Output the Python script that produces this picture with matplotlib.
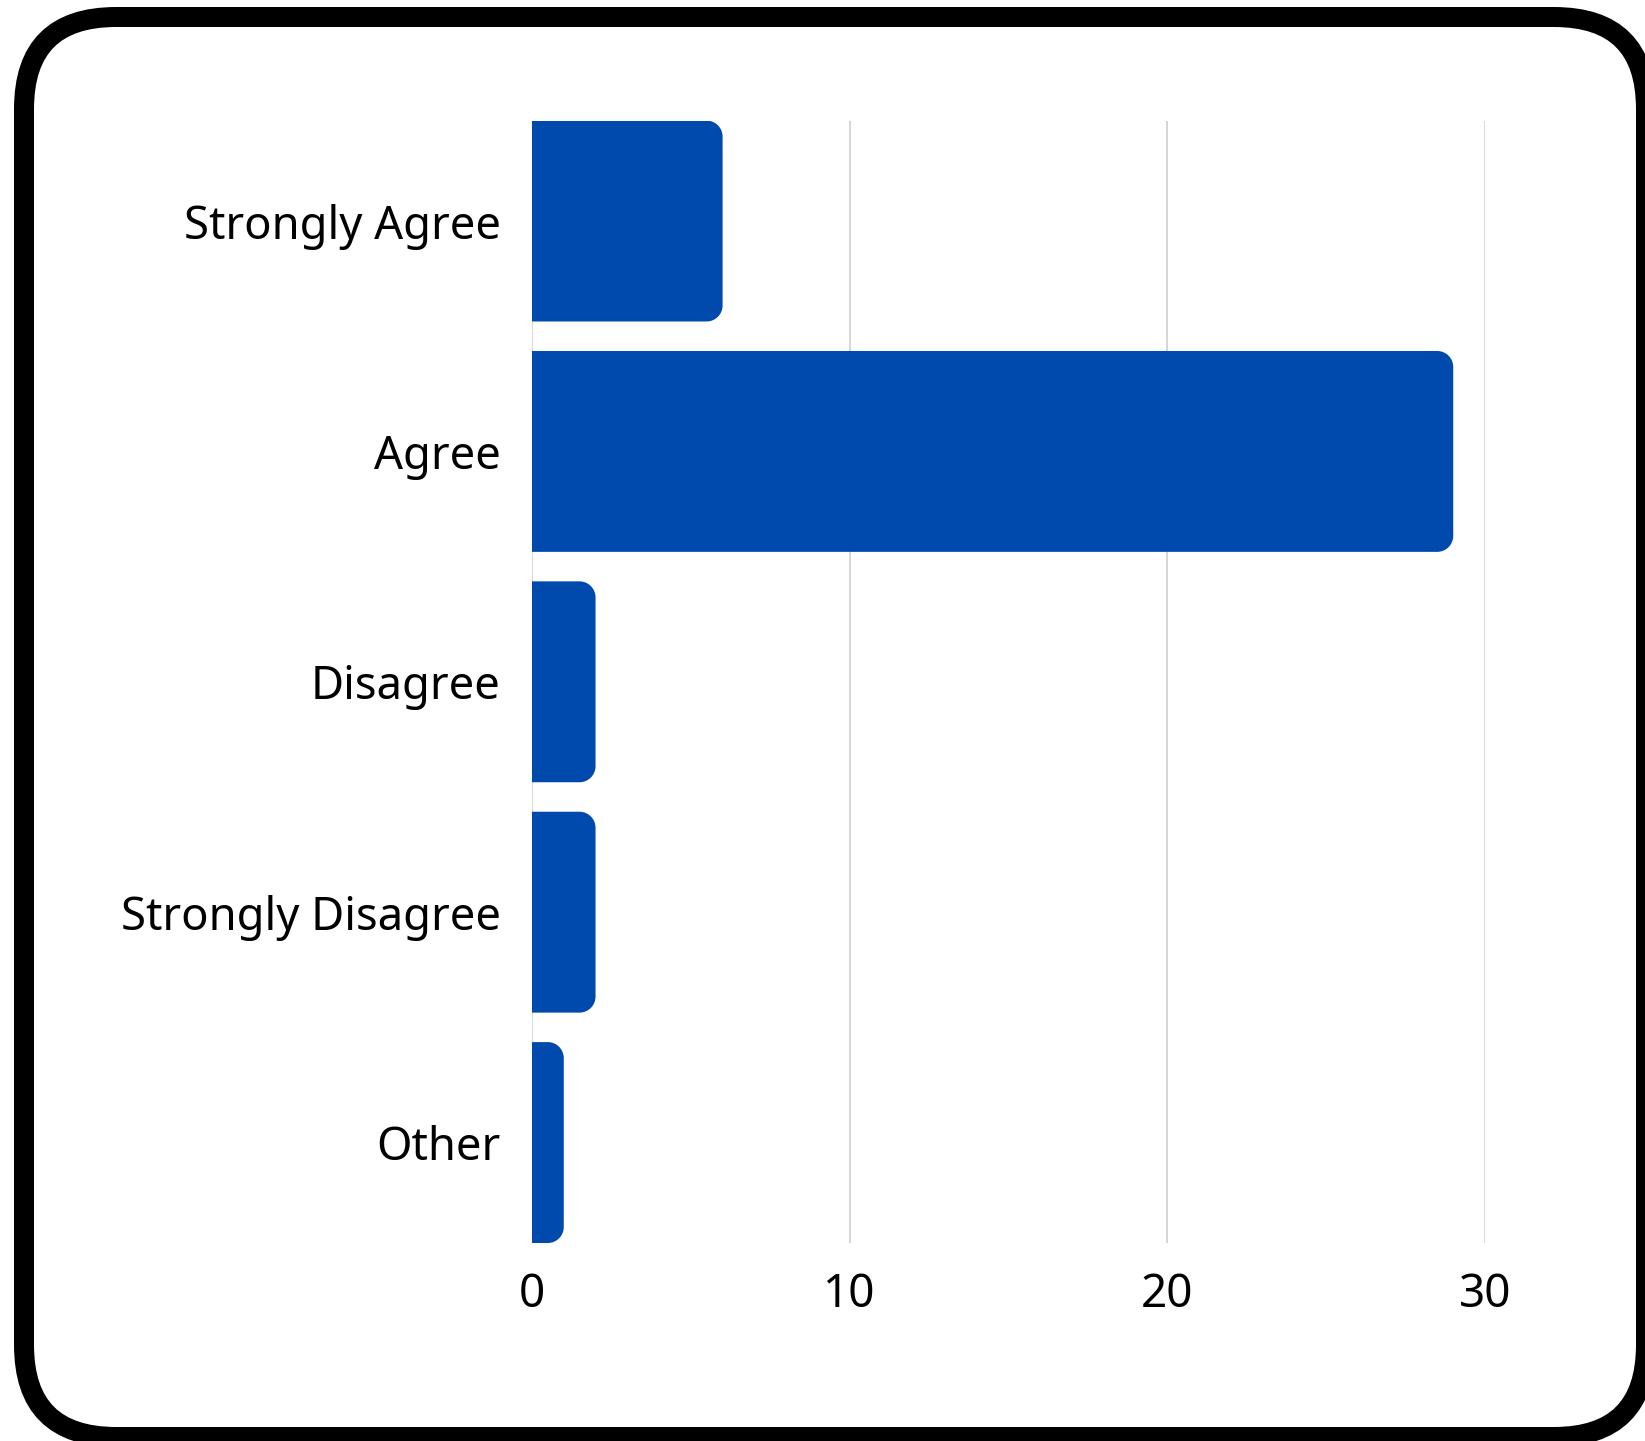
import matplotlib
matplotlib.use("Agg")
import matplotlib.pyplot as plt
from matplotlib.patches import FancyBboxPatch, PathPatch
from matplotlib.path import Path

# survey answers
categories = ["Strongly Agree", "Agree", "Disagree", "Strongly Disagree", "Other"]
counts = [6, 29, 2, 2, 1]
xticks = [0, 10, 20, 30]

bar_color = "#004AAD"
grid_color = "#d0d0d0"
W, H = 1645, 1441

plt.rcParams['font.family'] = ['Noto Sans', 'DejaVu Sans']

fig = plt.figure(figsize=(W / 100, H / 100), dpi=100)

# frame in pixel coords on a full-figure axes
bg = fig.add_axes([0, 0, 1, 1])
bg.set_xlim(0, W)
bg.set_ylim(H, 0)
bg.axis("off")
frame = FancyBboxPatch((24, 17), 1646 - 24, 1437 - 17,
                       boxstyle="round,pad=0,rounding_size=92",
                       facecolor="white", edgecolor="black", linewidth=14.4)
bg.add_patch(frame)

ax = fig.add_axes([532 / W, 1 - 1243 / H, (1485 - 532) / W, (1243 - 120.6) / H])
ax.patch.set_alpha(0)

bar_h = 0.872
ypos = list(range(len(categories)))
bars = ax.barh(ypos, counts, height=bar_h, color=bar_color)
ax.set_xlim(0, 30)
ax.set_ylim(len(categories) - 1 + bar_h / 2, -bar_h / 2)
ax.set_yticks(ypos)
ax.set_yticklabels(categories, fontsize=32.7)
ax.set_xticks(xticks)
ax.set_xticklabels([str(t) for t in xticks], fontsize=33)
ax.tick_params(length=0)
ax.tick_params(axis="y", pad=22.5)
ax.tick_params(axis="x", pad=21)
for s in ax.spines.values():
    s.set_visible(False)
ax.set_axisbelow(True)
ax.grid(axis="x", color=grid_color, linewidth=1.2)
ax.grid(axis="y", visible=False)

# swap plain rectangles for ones with rounded right corners
fig.canvas.draw()
px_x = ax.transData.transform((1, 0))[0] - ax.transData.transform((0, 0))[0]
px_y = abs(ax.transData.transform((0, 1))[1] - ax.transData.transform((0, 0))[1])
r = 16
for b in bars:
    x0, y0 = b.get_x(), b.get_y()
    x1, y1 = x0 + b.get_width(), y0 + b.get_height()
    rx = min(r / px_x, (x1 - x0) / 2)
    ry = r / px_y
    k = 0.5523
    verts = [
        (x0, y0), (x1 - rx, y0),
        (x1 - rx + k * rx, y0), (x1, y0 + ry - k * ry), (x1, y0 + ry),
        (x1, y1 - ry),
        (x1, y1 - ry + k * ry), (x1 - rx + k * rx, y1), (x1 - rx, y1),
        (x0, y1), (x0, y0),
    ]
    codes = [Path.MOVETO, Path.LINETO,
             Path.CURVE4, Path.CURVE4, Path.CURVE4,
             Path.LINETO,
             Path.CURVE4, Path.CURVE4, Path.CURVE4,
             Path.LINETO, Path.CLOSEPOLY]
    ax.add_patch(PathPatch(Path(verts, codes), facecolor=bar_color,
                           edgecolor="none", zorder=b.get_zorder()))
    b.set_visible(False)

fig.savefig("out.png", dpi=100)
